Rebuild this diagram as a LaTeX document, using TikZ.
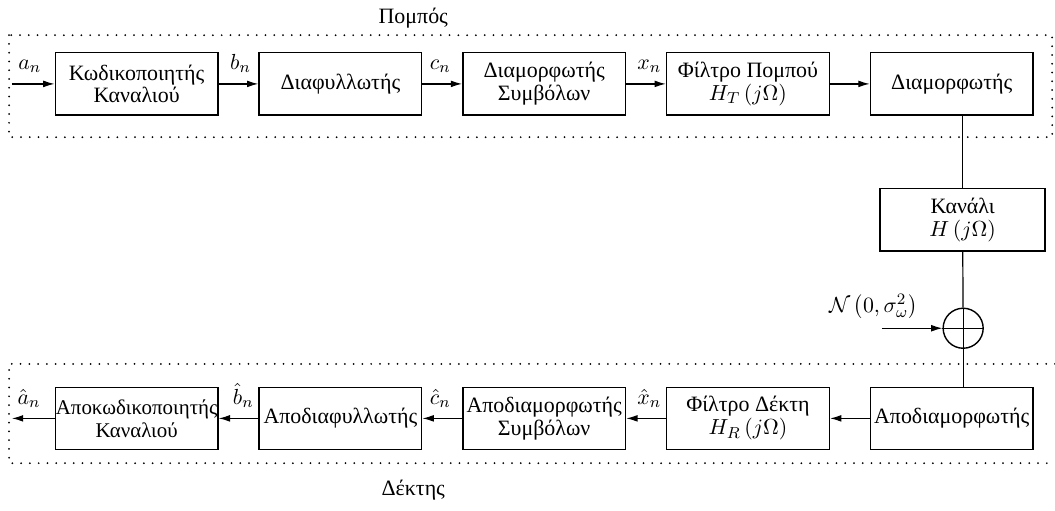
\documentclass[tikz,border=0pt]{standalone}
\usepackage{fontspec}
\setmainfont{Liberation Serif}
\usetikzlibrary{arrows.meta, positioning}

\begin{document}
\begin{tikzpicture}[
  node distance=7mm,
  block/.style={draw, line width=0.7pt, align=center, minimum width=28.7mm, minimum height=11mm,
                inner xsep=0pt, font=\fontsize{11}{11.5}\selectfont},
  sig/.style={font=\fontsize{11}{12}\selectfont, inner sep=1pt},
  arr/.style={-{Latex[length=2mm, width=1.2mm]}, line width=0.6pt},
  lin/.style={line width=0.6pt},
  frame/.style={line width=1pt, dash pattern=on 0pt off 4.4pt, line cap=round}
]
  \useasboundingbox (0,0) rectangle (186.1mm,-90mm);

  % transmitter
  \node[block] (enc) at (24.1mm,-14.8mm) {Κωδικοποιητής\\Καναλιού};
  \node[block, right=of enc] (intl) {Διαφυλλωτής};
  \node[block, right=of intl] (symmod) {Διαμορφωτής\\Συμβόλων};
  \node[block, right=of symmod] (txfilt) {Φίλτρο Πομπού\\$H_T\left(j\Omega\right)$};
  \node[block, right=of txfilt] (mod) {Διαμορφωτής};

  % channel
  \node[block, minimum width=29.1mm] (chan) at (169.8mm,-38.8mm) {Κανάλι\\$H\left(j\Omega\right)$};
  \node[draw, circle, line width=0.7pt, minimum size=7.06mm, inner sep=0pt] (sum) at (169.9mm,-57.9mm) {};
  \coordinate (noise) at ([xshift=-10.7mm]sum.west);
  \node[sig, above=1.2mm of noise, xshift=-1.5mm] (noiselbl) {$\mathcal{N}\left(0,\sigma_{\omega}^{2}\right)$};

  % receiver
  \node[block, font=\fontsize{10.5}{11.5}\selectfont] (dec) at (24.1mm,-73.8mm) {Αποκωδικοποιητής\\Καναλιού};
  \node[block, right=of dec] (deintl) {Αποδιαφυλλωτής};
  \node[block, right=of deintl] (symdemod) {Αποδιαμορφωτής\\Συμβόλων};
  \node[block, right=of symdemod] (rxfilt) {Φίλτρο Δέκτη\\$H_R\left(j\Omega\right)$};
  \node[block, right=of rxfilt] (demod) {Αποδιαμορφωτής};

  \coordinate (ain) at (2.1mm,-14.8mm);
  \coordinate (aout) at (2.1mm,-73.8mm);

  \draw[arr] (ain) -- (enc) node[sig, pos=0.42, above=1.5mm] {$a_n$};
  \draw[arr] (enc) -- (intl) node[sig, pos=0.55, above=1.5mm] {$b_n$};
  \draw[arr] (intl) -- (symmod) node[sig, pos=0.45, above=1.5mm] {$c_n$};
  \draw[arr] (symmod) -- (txfilt) node[sig, pos=0.58, above=1.5mm] {$x_n$};
  \draw[arr] (txfilt) -- (mod);

  \draw[lin] (mod.south -| chan) -- (chan.north);
  \draw[lin] (chan) -- (sum);
  \draw[lin] (sum.north) -- (sum.south) (sum.west) -- (sum.east);
  \draw[arr] (noise) -- (sum.west);
  \draw[lin] (sum.south) -- (sum.south |- demod.north);

  \draw[arr] (demod) -- (rxfilt);
  \draw[arr] (rxfilt) -- (symdemod) node[sig, pos=0.42, above=1.5mm] {$\hat{x}_n$};
  \draw[arr] (symdemod) -- (deintl) node[sig, pos=0.55, above=1.5mm] {$\hat{c}_n$};
  \draw[arr] (deintl) -- (dec) node[sig, pos=0.38, above=1.5mm] {$\hat{b}_n$};
  \draw[arr] (dec) -- (aout) node[sig, pos=0.6, above=1.5mm] {$\hat{a}_n$};

  % frames
  \draw[frame] (1.6mm,-6.2mm) rectangle (185.6mm,-24.2mm);
  \draw[frame] (186.1mm,-64.2mm) -- (1.6mm,-64.2mm) -- (1.6mm,-81.7mm) -- (186.1mm,-81.7mm);
  \node[sig] (txlbl) at (72.9mm,-3.2mm) {Πομπός};
  \node[sig] (rxlbl) at (72.9mm,-86.4mm) {Δέκτης};
\end{tikzpicture}
\end{document}
